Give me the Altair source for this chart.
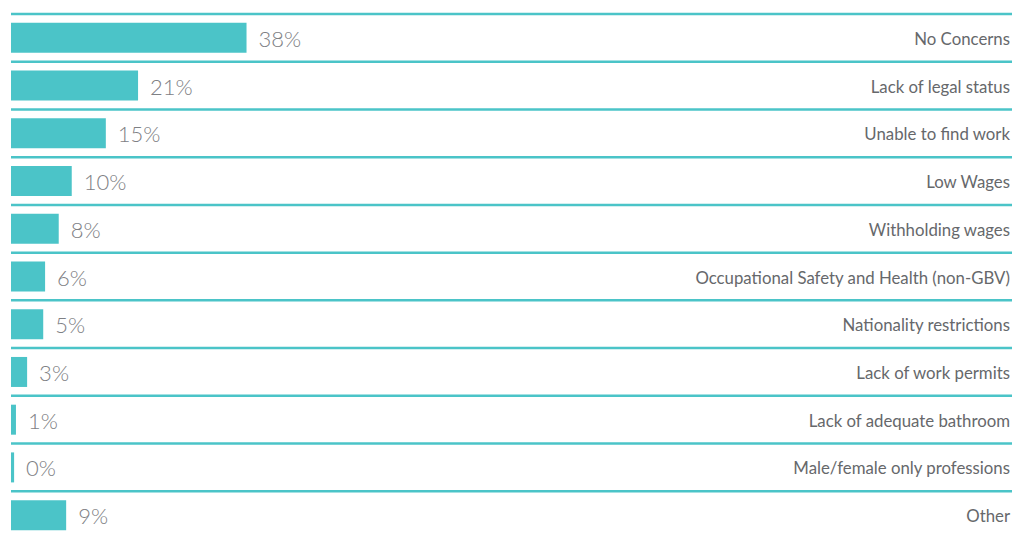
import altair as alt
import pandas as pd

categories = [
    "No Concerns",
    "Lack of legal status",
    "Unable to find work",
    "Low Wages",
    "Withholding wages",
    "Occupational Safety and Health (non-GBV)",
    "Nationality restrictions",
    "Lack of work permits",
    "Lack of adequate bathroom",
    "Male/female only professions",
    "Other",
]
labels = ["38%", "21%", "15%", "10%", "8%", "6%", "5%", "3%", "1%", "0%", "9%"]
values = [38.0, 20.5, 15.3, 9.8, 7.7, 5.5, 5.2, 2.6, 0.8, 0.5, 8.9]

df = pd.DataFrame({"category": categories, "label": labels, "value": values})

X_MAX = 161.5
TEAL = "#4BC4C8"

x_scale = alt.Scale(domain=[0, X_MAX], nice=False, zero=True)
y_scale = alt.Scale(range=[0, 525], paddingInner=0, paddingOuter=0)


def y_enc(**kw):
    return alt.Y("category:N", sort=categories, axis=None, scale=y_scale, **kw)


base = alt.Chart(df)

rules = base.mark_rule(color=TEAL, strokeWidth=2.5).encode(
    y=y_enc(bandPosition=0),
    x=alt.X(datum=0, scale=x_scale, axis=None),
    x2=alt.X2(datum=X_MAX),
)

bars = base.mark_bar(size=30, color=TEAL).encode(
    x=alt.X("value:Q", scale=x_scale, axis=None),
    y=y_enc(),
)

pct = base.mark_text(
    align="left", baseline="middle", dx=12, dy=2,
    fontSize=22, font="Lato", fontWeight=300, color="#7e8084",
).encode(
    x=alt.X("value:Q", scale=x_scale, axis=None),
    y=y_enc(),
    text="label:N",
)

names = base.mark_text(
    align="right", baseline="middle", dx=-2, dy=2,
    fontSize=16.8, font="Lato", color="#66686b",
).encode(
    x=alt.X(datum=X_MAX, scale=x_scale, axis=None),
    y=y_enc(),
    text="category:N",
)

chart = (
    alt.layer(rules, bars, pct, names)
    .properties(
        width=1001,
        height=519,
        padding={"left": 11, "top": 14, "right": 0, "bottom": 0},
        autosize="none",
    )
    .configure_view(stroke=None)
)

chart.save("out.html", embed_options={"renderer": "svg", "actions": False})
